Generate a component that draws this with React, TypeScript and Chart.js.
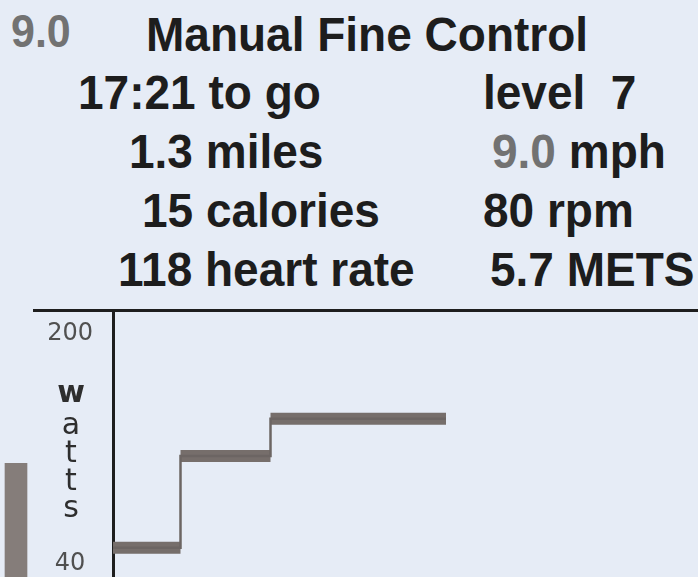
import React, { useEffect, useRef } from "react";
import { Chart, registerables } from "chart.js";

Chart.register(...registerables);

// ---- data ----
const stepTimes = [0, 3, 7, 14.8]; // breakpoints (minutes)
const wattsValues = [51, 115, 141]; // watts held over each interval
const yTickValues = [40, 200];
const axisLetters = ["w", "a", "t", "t", "s"];
const gaugeValues = [8.3];

const titleLeft = "9.0";
const titleText = "Manual Fine Control";
const leftColumn = ["17:21 to go", "1.3 miles", "15 calories", "118 heart rate"];
const rightColumn = ["level  7", "9.0 mph", "80 rpm", "5.7 METS"];

const BG = "#e6ecf6";
const INK = "#1d1d1d";
const GREY = "#727272";
const BAR = "#766e6b";

const SANS = "'Liberation Sans', Arial, Helvetica, sans-serif";

function TextAt(props: {
  x: number;
  baseline: number;
  size: number;
  color?: string;
  weight?: number;
  family?: string;
  children: React.ReactNode;
}) {
  const { x, baseline, size, color = INK, weight = 700, family = SANS } = props;
  const off = 0.8465 * size;
  const top = baseline - off;
  return (
    <div
      style={{
        position: "absolute",
        left: x,
        top,
        fontFamily: family,
        fontSize: size,
        lineHeight: "1",
        fontWeight: weight,
        color,
        whiteSpace: "pre",
        transform: "scaleY(1.06)",
        transformOrigin: `0px ${off}px`,
      }}
    >
      {props.children}
    </div>
  );
}

export default function App() {
  const chartRef = useRef<HTMLCanvasElement | null>(null);
  const gaugeRef = useRef<HTMLCanvasElement | null>(null);

  useEffect(() => {
    if (!chartRef.current || !gaugeRef.current) return;

    const thick: any[] = [];
    for (let i = 0; i < wattsValues.length; i++) {
      thick.push({ x: stepTimes[i], y: wattsValues[i] });
      thick.push({ x: stepTimes[i + 1], y: wattsValues[i] });
      thick.push({ x: stepTimes[i + 1], y: null });
    }
    const thin = stepTimes.map((t, i) => ({
      x: t,
      y: wattsValues[Math.min(i, wattsValues.length - 1)],
    }));

    const chart = new Chart(chartRef.current, {
      type: "line",
      data: {
        datasets: [
          {
            data: thin,
            stepped: "before",
            borderColor: "#6c6563",
            borderWidth: 2.5,
            pointRadius: 0,
            fill: false,
          },
          {
            data: thick,
            borderColor: BAR,
            borderWidth: 12,
            borderCapStyle: "butt",
            pointRadius: 0,
            spanGaps: false,
            fill: false,
          },
        ],
      },
      options: {
        animation: false,
        responsive: false,
        devicePixelRatio: 1,
        layout: { padding: { top: 10, left: 0, right: 0, bottom: 0 } },
        plugins: { legend: { display: false }, tooltip: { enabled: false } },
        scales: {
          x: { type: "linear", min: 0, max: 26, display: false },
          y: {
            type: "linear",
            min: 30.6,
            max: 216.8,
            position: "left",
            afterFit: (s: any) => {
              s.width = 113;
              s.paddingTop = 0;
              s.paddingBottom = 0;
            },
            afterBuildTicks: (s: any) => {
              s.ticks = yTickValues.map((v) => ({ value: v }));
            },
            ticks: {
              font: { family: "'DejaVu Sans', sans-serif", size: 24 },
              color: "#505050",
              padding: 20,
              crossAlign: "center",
            },
            grid: { display: false, drawTicks: false },
            border: { display: true, color: "#1e1e1e", width: 3 },
          },
        },
      },
    } as any);

    const gauge = new Chart(gaugeRef.current, {
      type: "bar",
      data: {
        labels: ["g"],
        datasets: [
          {
            data: gaugeValues,
            backgroundColor: "#857d7a",
            barThickness: 22,
          },
        ],
      },
      options: {
        animation: false,
        responsive: false,
        devicePixelRatio: 1,
        layout: { padding: 0 },
        plugins: { legend: { display: false }, tooltip: { enabled: false } },
        scales: {
          x: { display: false },
          y: { display: false, min: 0, max: 10 },
        },
      },
    } as any);

    return () => {
      chart.destroy();
      gauge.destroy();
    };
  }, []);

  const rowBaselines = [109, 168, 227, 286];
  const leftX = [78, 129, 142, 118];
  const rightX = [483, 492, 483, 490];
  const letterBaselines = [402, 434, 462, 490, 517];

  return (
    <div
      style={{
        position: "fixed",
        left: 0,
        top: 0,
        width: 698,
        height: 577,
        overflow: "hidden",
        background: BG,
      }}
    >
      <TextAt x={11} baseline={47} size={43} color={GREY} weight={700}>
        {titleLeft}
      </TextAt>
      <TextAt x={146} baseline={51} size={46}>
        {titleText}
      </TextAt>
      {leftColumn.map((t, i) => (
        <TextAt key={"l" + i} x={leftX[i]} baseline={rowBaselines[i]} size={46}>
          {t}
        </TextAt>
      ))}
      {rightColumn.map((t, i) => {
        if (t.startsWith("9.0")) {
          return (
            <TextAt key={"r" + i} x={rightX[i]} baseline={rowBaselines[i]} size={46}>
              <span style={{ color: GREY }}>9.0</span>
              {t.slice(3)}
            </TextAt>
          );
        }
        return (
          <TextAt key={"r" + i} x={rightX[i]} baseline={rowBaselines[i]} size={46}>
            {t}
          </TextAt>
        );
      })}

      <div
        style={{
          position: "absolute",
          left: 33,
          top: 309,
          width: 665,
          height: 3,
          background: "#1e1e1e",
        }}
      />

      <canvas
        ref={chartRef}
        width={698}
        height={277}
        style={{ position: "absolute", left: 0, top: 300, width: 698, height: 277 }}
      />

      {axisLetters.map((ch, i) => (
        <div
          key={"w" + i}
          style={{
            position: "absolute",
            left: 46,
            width: 50,
            textAlign: "center",
            top: letterBaselines[i] - 25.4,
            fontFamily: "'DejaVu Sans', sans-serif",
            fontSize: 30,
            lineHeight: "30px",
            fontWeight: i === 0 ? 700 : 400,
            color: "#2e2e2e",
          }}
        >
          {ch}
        </div>
      ))}

      <canvas
        ref={gaugeRef}
        width={32}
        height={137}
        style={{ position: "absolute", left: 0, top: 440, width: 32, height: 137 }}
      />
    </div>
  );
}
